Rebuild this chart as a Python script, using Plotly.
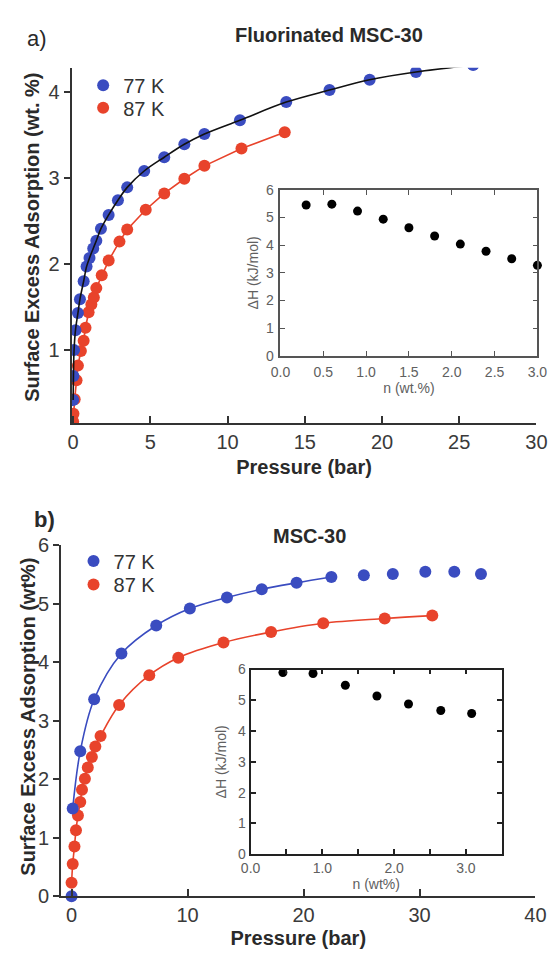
import plotly.graph_objects as go

# ---------------- data ----------------
# Panel a: Fluorinated MSC-30
a_77_p = [0.0, 0.02, 0.06, 0.15, 0.31, 0.44, 0.68, 0.87, 1.06, 1.3, 1.5, 1.8, 2.3, 2.9, 3.5, 4.6,
          5.9, 7.2, 8.5, 10.8, 13.8, 16.6, 19.2, 22.2, 25.9]
a_77_w = [0.42, 0.70, 1.00, 1.23, 1.43, 1.59, 1.80, 1.97, 2.07, 2.18, 2.27, 2.41, 2.57, 2.74, 2.89, 3.08,
          3.24, 3.39, 3.51, 3.67, 3.88, 4.02, 4.14, 4.23, 4.31]
a_87_p = [0.0, 0.02, 0.1, 0.22, 0.31, 0.5, 0.68, 0.8, 1.0, 1.18, 1.34, 1.5, 1.85, 2.3, 3.0, 3.5,
          4.7, 5.9, 7.2, 8.5, 10.9, 13.7]
a_87_w = [0.17, 0.26, 0.43, 0.65, 0.82, 0.99, 1.11, 1.26, 1.44, 1.53, 1.61, 1.72, 1.87, 2.04, 2.26, 2.40,
          2.63, 2.82, 2.99, 3.14, 3.34, 3.53]
a_ins_n = [0.3, 0.6, 0.9, 1.2, 1.5, 1.8, 2.1, 2.4, 2.7, 3.0]
a_ins_dh = [5.45, 5.48, 5.23, 4.94, 4.63, 4.33, 4.04, 3.78, 3.51, 3.27]

# Panel b: MSC-30
b_77_p = [0.0, 0.1, 0.75, 1.95, 4.3, 7.3, 10.2, 13.4, 16.4, 19.4, 22.4, 25.2, 27.7, 30.5, 33.0, 35.3]
b_77_w = [0.0, 1.5, 2.48, 3.37, 4.15, 4.63, 4.92, 5.11, 5.25, 5.36, 5.46, 5.49, 5.51, 5.55, 5.55, 5.51]
b_77_fit_count = 11
b_87_p = [0.0, 0.1, 0.25, 0.38, 0.55, 0.75, 0.9, 1.15, 1.4, 1.75, 2.05, 2.5, 4.1, 6.7, 9.2, 13.1,
          17.2, 21.7, 27.0, 31.1]
b_87_w = [0.23, 0.55, 0.85, 1.13, 1.38, 1.61, 1.82, 2.01, 2.2, 2.38, 2.56, 2.74, 3.27, 3.78, 4.08, 4.34,
          4.52, 4.67, 4.75, 4.80]
b_ins_n = [0.45, 0.87, 1.32, 1.76, 2.2, 2.65, 3.08]
b_ins_dh = [5.9, 5.87, 5.49, 5.14, 4.88, 4.67, 4.57]

a_xticks = [0, 5, 10, 15, 20, 25, 30]
a_yticks = [1, 2, 3, 4]
b_xticks = [0, 10, 20, 30, 40]
b_yticks = [0, 1, 2, 3, 4, 5, 6]

# ---------------- style ----------------
W, H = 559, 958
FONT = "Liberation Sans, Arial, sans-serif"
BLUE = "#3a4cc0"
RED = "#e8432b"
AX = "#333333"
TXT = "#2a2a2a"
GREY = "#606060"


def dx(p0, p1):
    return [p0 / W, p1 / W]


def dy(top, bottom):
    return [1 - bottom / H, 1 - top / H]


fig = go.Figure()

# ----- panel a main -----
fig.add_trace(go.Scatter(x=a_87_p, y=a_87_w, mode="lines", line=dict(color=RED, width=1.6),
                         showlegend=False, xaxis="x", yaxis="y", hoverinfo="skip"))
fig.add_trace(go.Scatter(x=a_87_p, y=a_87_w, mode="markers", name="87 K",
                         marker=dict(color=RED, size=12), xaxis="x", yaxis="y", legend="legend2"))
fig.add_trace(go.Scatter(x=a_77_p, y=a_77_w, mode="markers", name="77 K",
                         marker=dict(color=BLUE, size=12), xaxis="x", yaxis="y", legend="legend"))
fig.add_trace(go.Scatter(x=a_77_p, y=a_77_w, mode="lines", line=dict(color="#111111", width=1.6, shape="spline"),
                         showlegend=False, xaxis="x", yaxis="y", hoverinfo="skip"))

# ----- panel a inset -----
fig.add_trace(go.Scatter(x=a_ins_n, y=a_ins_dh, mode="markers", marker=dict(color="black", size=9),
                         showlegend=False, xaxis="x2", yaxis="y2", cliponaxis=False))

# ----- panel b main -----
fig.add_trace(go.Scatter(x=b_87_p, y=b_87_w, mode="lines", line=dict(color=RED, width=1.6, shape="spline"),
                         showlegend=False, xaxis="x3", yaxis="y3", hoverinfo="skip"))
fig.add_trace(go.Scatter(x=b_77_p[1:b_77_fit_count], y=b_77_w[1:b_77_fit_count], mode="lines",
                         line=dict(color=BLUE, width=1.6, shape="spline"),
                         showlegend=False, xaxis="x3", yaxis="y3", hoverinfo="skip"))
fig.add_trace(go.Scatter(x=b_87_p, y=b_87_w, mode="markers", name="87 K",
                         marker=dict(color=RED, size=12), xaxis="x3", yaxis="y3", legend="legend4",
                         cliponaxis=False))
fig.add_trace(go.Scatter(x=b_77_p, y=b_77_w, mode="markers", name="77 K",
                         marker=dict(color=BLUE, size=12), xaxis="x3", yaxis="y3", legend="legend3",
                         cliponaxis=False))

# ----- panel b inset -----
fig.add_trace(go.Scatter(x=b_ins_n, y=b_ins_dh, mode="markers", marker=dict(color="black", size=9),
                         showlegend=False, xaxis="x4", yaxis="y4", cliponaxis=False))

main_tick_font = dict(family=FONT, size=20, color="#3a3a3a")
main_title_font = dict(family=FONT, size=20, color=TXT)
ins_tick_font = dict(family=FONT, size=14, color=GREY)
ins_title_font = dict(family=FONT, size=14, color=GREY)


def leg(xp, yp):
    return dict(x=xp / W, y=1 - yp / H, xanchor="left", yanchor="middle",
                font=dict(family=FONT, size=20, color="#333"), bgcolor="rgba(0,0,0,0)",
                itemwidth=30, borderwidth=0)


fig.update_layout(
    width=W, height=H,
    margin=dict(l=0, r=0, t=0, b=0),
    paper_bgcolor="white", plot_bgcolor="white",
    font=dict(family=FONT, color=TXT),
    xaxis=dict(domain=dx(64, 547), range=[-0.1, 30], anchor="y",
               tickvals=a_xticks, ticks="inside", ticklen=7, tickwidth=1.6, tickcolor=AX,
               showline=True, linecolor=AX, linewidth=1.8, showgrid=False, zeroline=False,
               tickfont=main_tick_font,
               title=dict(text="<b>Pressure (bar)</b>", font=main_title_font, standoff=8)),
    yaxis=dict(domain=dy(58, 422), range=[0.15, 4.28], anchor="x",
               tickvals=a_yticks, ticks="outside", ticklen=6, tickwidth=1.6, tickcolor=AX,
               showline=True, linecolor=AX, linewidth=1.8, showgrid=False, zeroline=False,
               tickfont=main_tick_font),
    xaxis2=dict(domain=dx(281, 548), range=[0, 3.0], anchor="y2",
                tickvals=[0, 0.5, 1, 1.5, 2, 2.5, 3], ticktext=["0.0", "0.5", "1.0", "1.5", "2.0", "2.5", "3.0"],
                ticks="inside", ticklen=5, tickwidth=1.3, tickcolor="#555", showline=True, mirror="ticks",
                linecolor="#555", linewidth=1.5, showgrid=False, zeroline=False,
                tickfont=ins_tick_font, ticklabelstandoff=3,
                title=dict(text="n (wt.%)", font=ins_title_font, standoff=0)),
    yaxis2=dict(domain=dy(183, 353), range=[0, 6], anchor="x2",
                tickvals=[0, 1, 2, 3, 4, 5, 6], ticks="inside", ticklen=5, tickwidth=1.3, tickcolor="#555",
                showline=True, mirror="ticks", linecolor="#555", linewidth=1.5,
                showgrid=False, zeroline=False, tickfont=ins_tick_font, ticklabelstandoff=2,
                title=dict(text="ΔH (kJ/mol)", font=ins_title_font, standoff=4)),
    xaxis3=dict(domain=dx(53, 546), range=[-0.91, 40], anchor="y3",
                tickvals=b_xticks, ticks="inside", ticklen=7, tickwidth=1.6, tickcolor=AX,
                showline=True, linecolor=AX, linewidth=1.8, showgrid=False, zeroline=False,
                tickfont=main_tick_font,
                title=dict(text="<b>Pressure (bar)</b>", font=main_title_font, standoff=6)),
    yaxis3=dict(domain=dy(547, 906), range=[0, 6], anchor="x3",
                tickvals=b_yticks, ticks="outside", ticklen=6, tickwidth=1.6, tickcolor=AX,
                showline=True, linecolor=AX, linewidth=1.8, showgrid=False, zeroline=False,
                tickfont=main_tick_font),
    xaxis4=dict(domain=dx(250, 511), range=[0, 3.5], anchor="y4",
                tickvals=[0, 0.5, 1, 1.5, 2, 2.5, 3], ticktext=["0.0", "", "1.0", "", "2.0", "", "3.0"],
                ticks="inside", ticklen=5, tickwidth=1.6, tickcolor="#222", showline=True, mirror="ticks",
                linecolor="#222", linewidth=1.8, showgrid=False, zeroline=False,
                tickfont=ins_tick_font,
                title=dict(text="n (wt%)", font=ins_title_font, standoff=4)),
    yaxis4=dict(domain=dy(674, 863), range=[0, 6], anchor="x4",
                tickvals=[0, 1, 2, 3, 4, 5, 6], ticks="inside", ticklen=5, tickwidth=1.6, tickcolor="#222",
                showline=True, mirror="ticks", linecolor="#222", linewidth=1.8,
                showgrid=False, zeroline=False, tickfont=ins_tick_font,
                title=dict(text="ΔH (kJ/mol)", font=ins_title_font, standoff=8)),
    legend=leg(76, 76),
    legend2=leg(76, 99),
    legend3=leg(66, 563),
    legend4=leg(66, 587),
    annotations=[
        dict(text="a)", x=16 / W, y=1 - 28 / H, xref="paper", yref="paper", xanchor="left", yanchor="middle",
             showarrow=False, font=dict(family=FONT, size=22, color=TXT)),
        dict(text="<b>Fluorinated MSC-30</b>", x=331 / W, y=1 - 25 / H, xref="paper", yref="paper",
             xanchor="center", yanchor="middle", showarrow=False, font=dict(family=FONT, size=20, color=TXT)),
        dict(text="<b>Surface Excess Adsorption (wt. %)</b>", x=23 / W, y=1 - 232 / H, xref="paper",
             yref="paper", xanchor="center", yanchor="middle", textangle=-90, showarrow=False,
             font=main_title_font),
        dict(text="<b>b)</b>", x=23 / W, y=1 - 520 / H, xref="paper", yref="paper", xanchor="left", yanchor="middle",
             showarrow=False, font=dict(family=FONT, size=22, color=TXT)),
        dict(text="<b>MSC-30</b>", x=311 / W, y=1 - 537 / H, xref="paper", yref="paper",
             xanchor="center", yanchor="middle", showarrow=False, font=dict(family=FONT, size=20, color=TXT)),
        dict(text="<b>Surface Excess Adsorption (wt%)</b>", x=19 / W, y=1 - 722 / H, xref="paper",
             yref="paper", xanchor="center", yanchor="middle", textangle=-90, showarrow=False,
             font=main_title_font),
    ],
)

fig.write_html("out.html", config={"displayModeBar": False},
               post_script="document.body.style.margin='0';document.body.style.overflow='hidden';")
